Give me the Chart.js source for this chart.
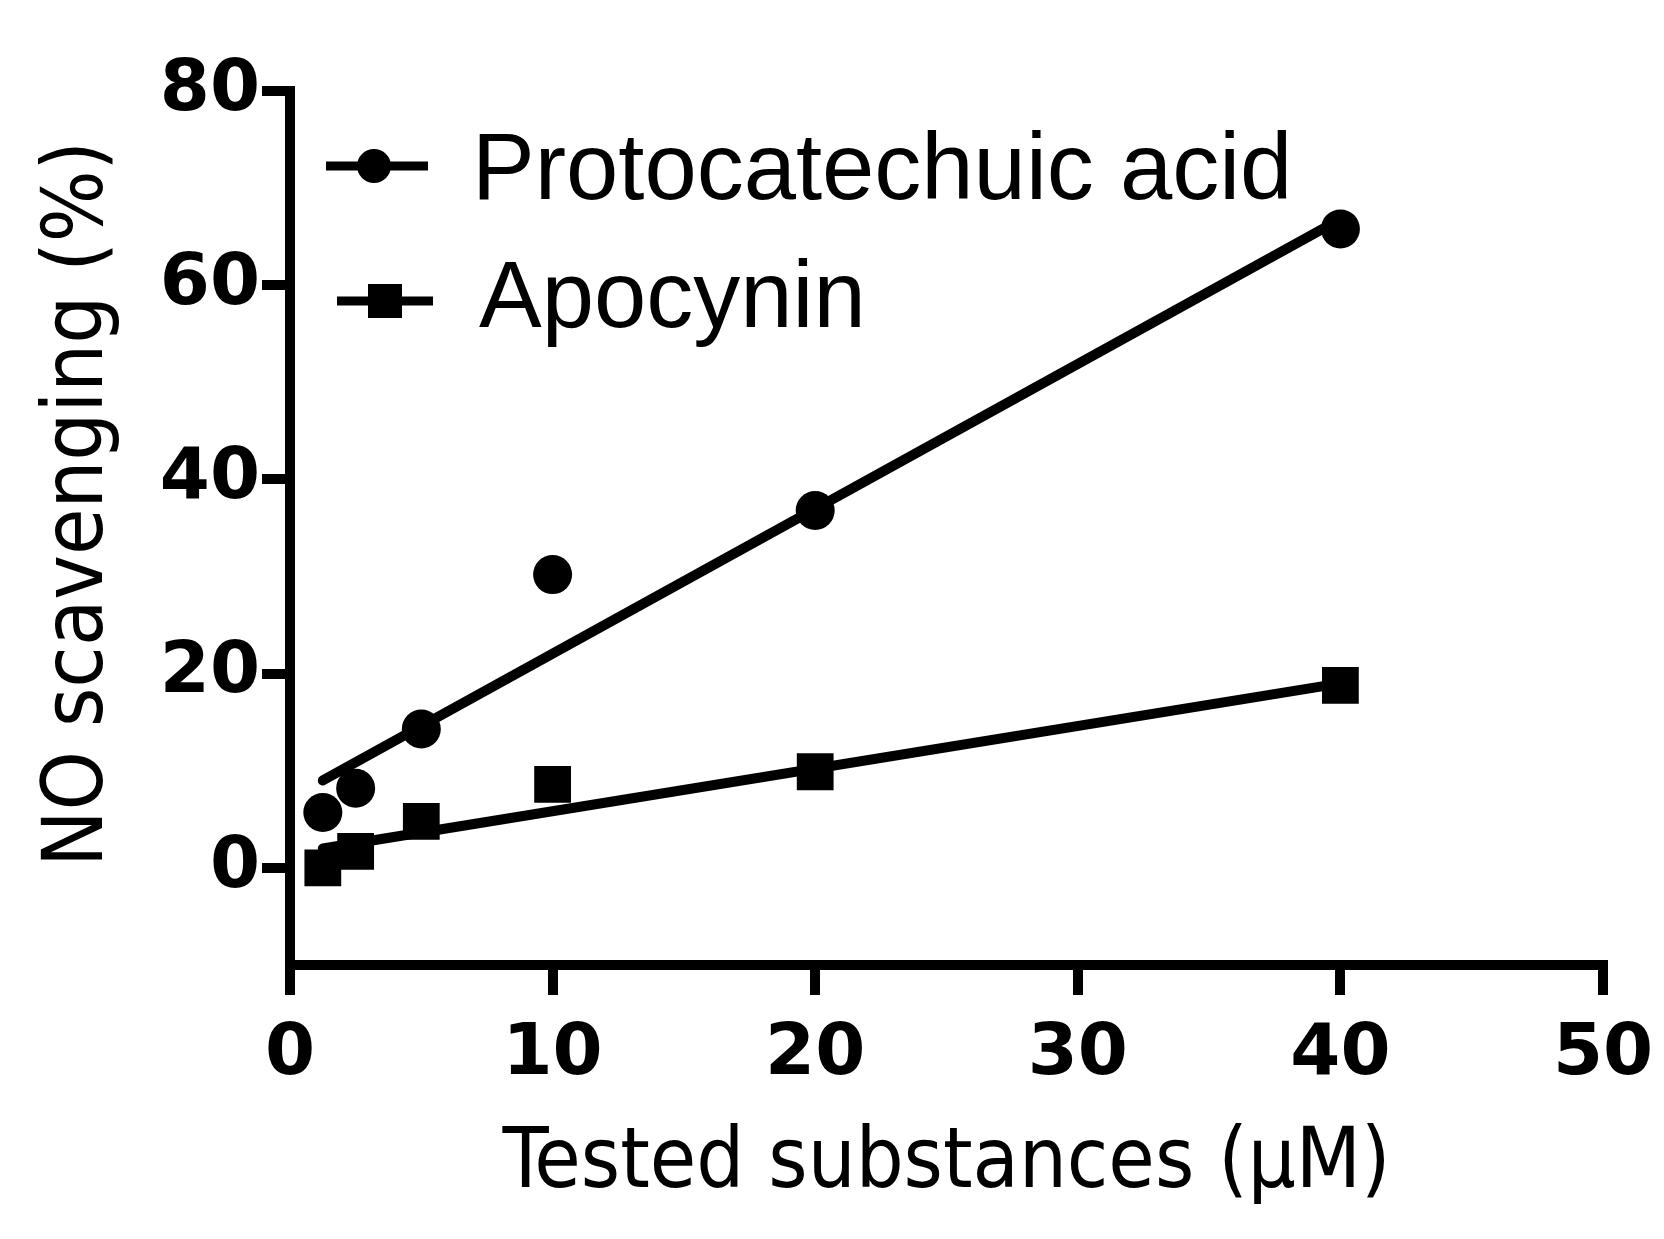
<!DOCTYPE html>
<html>
<head>
<meta charset="utf-8">
<title>NO scavenging</title>
<script src="https://cdn.jsdelivr.net/npm/chart.js@4.4.0/dist/chart.umd.min.js"></script>
<style>
  html, body { margin: 0; padding: 0; background: #fff; }
  #contenedor { width: 1664px; height: 1239px; }
</style>
</head>
<body>
<div id="contenedor"><canvas id="graficoNO" width="1664" height="1239"></canvas></div>
<script>
// Datos
const concentraciones = [1.25, 2.5, 5, 10, 20, 40];
const acidoProtocatechuico = [5.7, 8.2, 14.3, 30.2, 36.8, 65.8];
const apocinina = [0, 1.7, 4.8, 8.6, 9.9, 18.8];

// Extremos de las rectas de regresión
const rectaX = [1.25, 40];
const rectaProtocatechuico = [9.0, 66.8];
const rectaApocinina = [2.0, 19.0];

const ticksX = [0, 10, 20, 30, 40, 50];
const ticksY = [0, 20, 40, 60, 80];
const nombres = ['Protocatechuic acid', 'Apocynin'];

function aPuntos(xs, ys) {
    return xs.map((x, i) => ({ x: x, y: ys[i] }));
}

// Leyenda dibujada a mano dentro del área del gráfico
const leyendaManual = {
    id: 'leyendaManual',
    afterDraw(chart) {
        const ctx = chart.ctx;
        const filas = [
            { y: 166, x1: 326, x2: 428, xm: 374, base: 199, xt: 472, estilo: 'circle', r: 17 },
            { y: 301, x1: 337, x2: 433, xm: 385, base: 327, xt: 479, estilo: 'rect', r: 17 }
        ];
        ctx.save();
        filas.forEach((f, i) => {
            ctx.strokeStyle = '#000';
            ctx.fillStyle = '#000';
            ctx.lineWidth = 9;
            ctx.beginPath();
            ctx.moveTo(f.x1, f.y);
            ctx.lineTo(f.x2, f.y);
            ctx.stroke();
            if (f.estilo === 'circle') {
                ctx.beginPath();
                ctx.arc(f.xm, f.y, f.r, 0, Math.PI * 2);
                ctx.fill();
            } else {
                ctx.fillRect(f.xm - f.r, f.y - f.r, f.r * 2, f.r * 2);
            }
            ctx.font = '94px "Liberation Sans", Arial, sans-serif';
            ctx.textAlign = 'left';
            ctx.textBaseline = 'alphabetic';
            ctx.fillText(chart.data.datasets[i].label, f.xt, f.base);
        });
        ctx.restore();
    }
};

document.addEventListener('DOMContentLoaded', function () {
    const ctx = document.getElementById('graficoNO').getContext('2d');
    const fuenteTicks = { family: '"DejaVu Sans", Verdana, sans-serif', weight: 'bold', size: 72 };
    const fuenteTitulo = { family: '"DejaVu Sans Condensed", "DejaVu Sans", sans-serif', size: 84 };

    new Chart(ctx, {
        type: 'scatter',
        data: {
            datasets: [
                {
                    label: nombres[0],
                    data: aPuntos(concentraciones, acidoProtocatechuico),
                    showLine: false,
                    pointStyle: 'circle',
                    pointRadius: 19.5,
                    backgroundColor: '#000',
                    borderColor: '#000',
                    borderWidth: 0
                },
                {
                    label: nombres[1],
                    data: aPuntos(concentraciones, apocinina),
                    showLine: false,
                    pointStyle: 'rect',
                    pointRadius: 26,
                    backgroundColor: '#000',
                    borderColor: '#000',
                    borderWidth: 0
                },
                {
                    label: 'fit1',
                    data: aPuntos(rectaX, rectaProtocatechuico),
                    showLine: true,
                    pointRadius: 0,
                    borderColor: '#000',
                    borderWidth: 10,
                    borderCapStyle: 'round'
                },
                {
                    label: 'fit2',
                    data: aPuntos(rectaX, rectaApocinina),
                    showLine: true,
                    pointRadius: 0,
                    borderColor: '#000',
                    borderWidth: 10,
                    borderCapStyle: 'round'
                }
            ]
        },
        options: {
            responsive: false,
            devicePixelRatio: 1,
            animation: false,
            layout: { padding: { top: 91, right: 61, left: 0, bottom: 0 } },
            plugins: {
                legend: { display: false },
                tooltip: { enabled: false }
            },
            scales: {
                x: {
                    type: 'linear',
                    min: 0,
                    max: 50,
                    afterFit: (scale) => {
                        scale.height = 274;
                        scale.paddingLeft = 0;   // el margen lo da layout.padding
                        scale.paddingRight = 0;
                    },
                    afterBuildTicks: (scale) => { scale.ticks = ticksX.map(v => ({ value: v })); },
                    border: { display: true, color: '#000', width: 10 },
                    grid: { display: true, drawOnChartArea: false, drawTicks: true, tickLength: 30, lineWidth: 10, color: '#000' },
                    ticks: { color: '#000', font: fuenteTicks, padding: 17, maxRotation: 0 },
                    title: {
                        display: true,
                        text: 'Tested substances (\u03bcM)',
                        color: '#000',
                        font: fuenteTitulo,
                        padding: { top: 0, bottom: 23 }
                    }
                },
                y: {
                    type: 'linear',
                    min: -10,
                    max: 80,
                    afterFit: (scale) => {
                        scale.width = 290;
                        scale.paddingTop = 0;
                        scale.paddingBottom = 0;
                    },
                    afterBuildTicks: (scale) => { scale.ticks = ticksY.map(v => ({ value: v })); },
                    border: { display: true, color: '#000', width: 10 },
                    grid: { display: true, drawOnChartArea: false, drawTicks: true, tickLength: 28, lineWidth: 10, color: '#000' },
                    ticks: { color: '#000', font: fuenteTicks, padding: 2 },
                    title: {
                        display: true,
                        // el espacio inicial sube un poco el título, como en la figura
                        text: '  NO scavenging (%)',
                        color: '#000',
                        font: fuenteTitulo,
                        padding: { top: 30, bottom: 0 }
                    }
                }
            }
        },
        plugins: [leyendaManual]
    });
});
</script>
</body>
</html>
